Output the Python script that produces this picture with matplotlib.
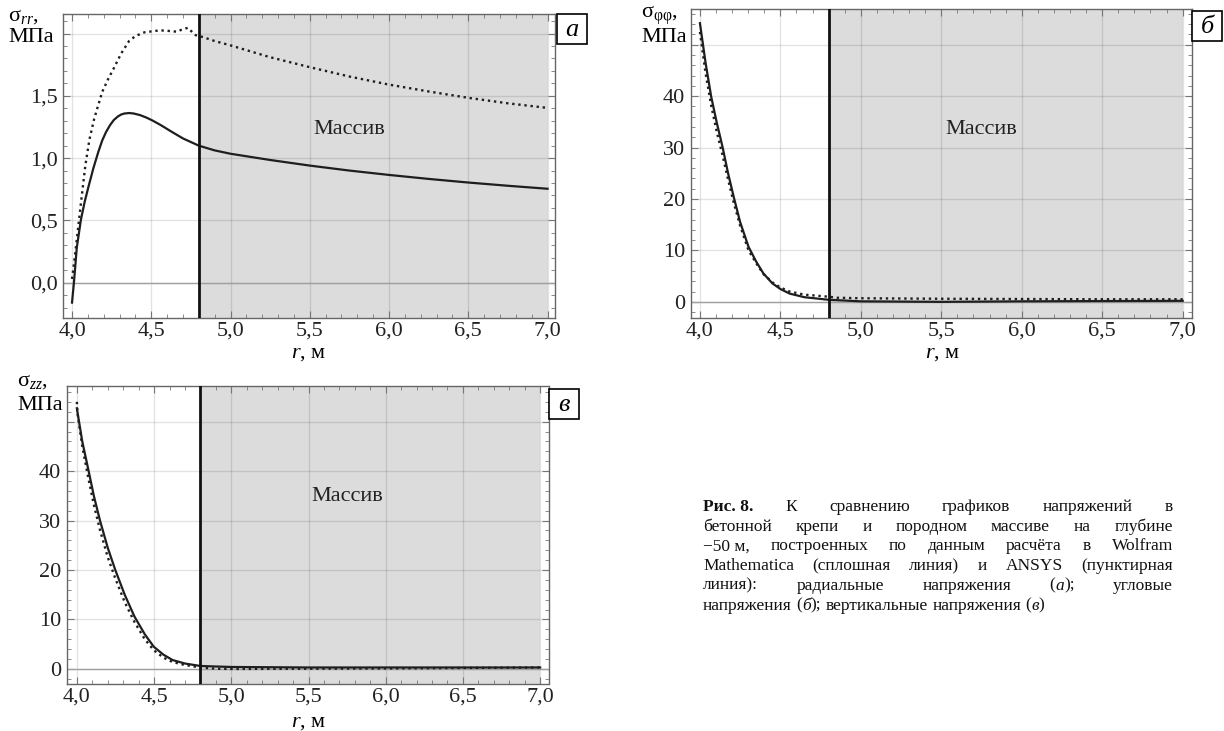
import matplotlib
matplotlib.use("Agg")
import matplotlib.pyplot as plt
from matplotlib.ticker import FixedLocator, MultipleLocator, FixedFormatter
from matplotlib.patches import Rectangle

plt.rcParams['font.family'] = ['Liberation Serif', 'DejaVu Serif']
plt.rcParams['mathtext.fontset'] = 'custom'
plt.rcParams['mathtext.rm'] = 'Liberation Serif'
plt.rcParams['mathtext.it'] = 'Liberation Serif:italic'

# ---- data ----
# panel a: radial stress
a_r_solid = [4.0, 4.012, 4.03, 4.056, 4.08, 4.105, 4.135, 4.165, 4.19, 4.214, 4.24, 4.263,
             4.29, 4.31, 4.33, 4.36, 4.39, 4.43, 4.47, 4.506, 4.56, 4.628, 4.7, 4.8, 4.9,
             5.0, 5.25, 5.5, 5.75, 6.0, 6.25, 6.5, 6.75, 7.0]
a_s_solid = [-0.16, 0.0, 0.28, 0.505, 0.65, 0.776, 0.92, 1.046, 1.14, 1.208, 1.265, 1.305,
             1.335, 1.35, 1.358, 1.362, 1.358, 1.345, 1.325, 1.303, 1.265, 1.212, 1.158, 1.10,
             1.062, 1.035, 0.985, 0.94, 0.90, 0.865, 0.833, 0.804, 0.778, 0.754]
a_r_dot = [4.0, 4.015, 4.035, 4.06, 4.084, 4.11, 4.14, 4.19, 4.23, 4.263, 4.31, 4.36, 4.4,
           4.457, 4.555, 4.62, 4.66, 4.69, 4.73, 4.76, 4.78, 4.83, 4.9, 5.0, 5.25, 5.5,
           5.75, 6.0, 6.25, 6.5, 6.75, 7.0]
a_s_dot = [0.03, 0.18, 0.40, 0.68, 0.94, 1.15, 1.316, 1.53, 1.64, 1.72, 1.84, 1.94, 1.98,
           2.01, 2.026, 2.02, 2.015, 2.03, 2.046, 2.01, 1.987, 1.97, 1.94, 1.905, 1.81, 1.73,
           1.655, 1.59, 1.535, 1.484, 1.44, 1.403]

# panel b: hoop stress
b_r_solid = [4.0, 4.035, 4.07, 4.105, 4.14, 4.175, 4.21, 4.25, 4.302, 4.35, 4.395, 4.45,
             4.5, 4.558, 4.65, 4.8, 5.0, 5.5, 6.0, 6.5, 7.0]
b_s_solid = [54.2, 46.5, 39.9, 34.8, 30.2, 25.0, 20.4, 15.5, 10.7, 7.8, 5.5, 3.6,
             2.5, 1.6, 0.9, 0.4, 0.1, 0.0, 0.1, 0.15, 0.2]
b_r_dot = [4.0, 4.035, 4.07, 4.105, 4.14, 4.175, 4.21, 4.25, 4.302, 4.35, 4.395, 4.45,
           4.5, 4.558, 4.65, 4.8, 4.85, 5.0, 5.5, 6.0, 6.5, 7.0]
b_s_dot = [52.5, 44.5, 38.2, 33.0, 28.6, 23.8, 19.3, 14.8, 10.0, 7.5, 5.4, 3.8,
           2.8, 2.0, 1.4, 1.0, 0.8, 0.7, 0.6, 0.55, 0.5, 0.5]

# panel c: vertical stress
c_r_solid = [4.0, 4.035, 4.075, 4.11, 4.149, 4.2, 4.249, 4.31, 4.373, 4.44, 4.498, 4.56,
             4.62, 4.7, 4.8, 5.0, 5.5, 6.0, 6.5, 7.0]
c_s_solid = [52.7, 46.0, 40.2, 35.0, 30.1, 24.5, 20.0, 15.0, 10.6, 7.0, 4.5, 2.9,
             1.8, 1.1, 0.6, 0.4, 0.3, 0.3, 0.3, 0.3]
c_r_dot = [4.0, 4.005, 4.035, 4.075, 4.11, 4.149, 4.2, 4.249, 4.31, 4.373, 4.44, 4.498,
           4.56, 4.62, 4.7, 4.8, 4.9, 5.0, 5.5, 6.0, 6.5, 7.0]
c_s_dot = [54.0, 51.5, 45.0, 38.5, 33.2, 28.2, 22.6, 18.3, 13.5, 9.5, 6.0, 3.8,
           2.3, 1.4, 0.8, 0.3, 0.05, 0.0, 0.05, 0.1, 0.2, 0.3]

r_ticks = [4.0, 4.5, 5.0, 5.5, 6.0, 6.5, 7.0]
r_labels = ["4,0", "4,5", "5,0", "5,5", "6,0", "6,5", "7,0"]
a_ticks = [0.0, 0.5, 1.0, 1.5, 2.0]
a_labels = ["0,0", "0,5", "1,0", "1,5", ""]
bc_ticks = [0, 10, 20, 30, 40, 50]
bc_labels = ["0", "10", "20", "30", "40", ""]

r_contact = 4.8
r_end = 7.0

caption_lines = [
    "**Рис.\u00a08.** К сравнению графиков напряжений в",
    "бетонной крепи и породном массиве на глубине",
    "\u221250\u00a0м, построенных по данным расчёта в Wolfram",
    "Mathematica (сплошная линия) и ANSYS (пунктирная",
    "линия): радиальные напряжения (_а_); угловые",
    "напряжения (_б_); вертикальные напряжения (_в_)",
]

W, H = 1224, 731
fig = plt.figure(figsize=(W / 100, H / 100), dpi=100)
FS = 16


def fx(px):
    return px / W


def fy(py):
    return 1 - py / H


def add_panel(left, top, right, bottom):
    return fig.add_axes([fx(left), fy(bottom), (right - left) / W, (bottom - top) / H])


def draw_panel(ax, rs, ss, rd, sd, xlim, ylim, yticks, ylabels, yminor, massiv_y):
    ax.axvspan(r_contact, r_end, color="#dcdcdc", lw=0, zorder=0)
    ax.set_axisbelow(True)
    ax.axhline(0, color="#a0a0a0", lw=1.0, zorder=1)
    ax.plot(rd, sd, color="#1e1e1e", lw=1.7, ls=(0, (1, 1.6)), zorder=3)
    ax.plot(rs, ss, color="#1e1e1e", lw=1.6, zorder=4)
    ax.axvline(r_contact, color="#111111", lw=2.0, zorder=5)
    ax.text(5.75, massiv_y, "Массив", fontsize=FS, ha="center", va="center", color="#222222")

    ax.set_xlim(*xlim)
    ax.set_ylim(*ylim)
    ax.xaxis.set_major_locator(FixedLocator(r_ticks))
    ax.xaxis.set_major_formatter(FixedFormatter(r_labels))
    ax.xaxis.set_minor_locator(MultipleLocator(0.1))
    ax.yaxis.set_major_locator(FixedLocator(yticks))
    ax.yaxis.set_major_formatter(FixedFormatter(ylabels))
    ax.yaxis.set_minor_locator(MultipleLocator(yminor))
    ax.grid(True, which="major", color="black", alpha=0.11, lw=1.0)
    ax.tick_params(which="both", direction="in", top=True, right=True, colors="#777777",
                   labelcolor="#222222", labelsize=FS)
    ax.tick_params(which="major", length=5, width=0.8)
    ax.tick_params(which="minor", length=3, width=0.6)
    ax.tick_params(axis="x", pad=2)
    ax.tick_params(axis="y", pad=4)
    for sp in ax.spines.values():
        sp.set_color("#666666")
        sp.set_linewidth(1.0)


def letter_box(x0, y0, x1, y1, letter):
    fig.add_artist(Rectangle((fx(x0), fy(y1)), (x1 - x0) / W, (y1 - y0) / H,
                             transform=fig.transFigure, fc="white", ec="black", lw=1.2))
    fig.text(fx((x0 + x1) / 2), fy((y0 + y1) / 2 + 1), letter, fontsize=19, style="italic",
             ha="center", va="center")


# panel a
ax_a = add_panel(63.3, 14, 555, 318.3)
draw_panel(ax_a, a_r_solid, a_s_solid, a_r_dot, a_s_dot, (3.945, 7.047), (-0.286, 2.157),
           a_ticks, a_labels, 0.1, 1.23)
fig.text(fx(8), fy(21), r"σ$_{rr}$,", fontsize=FS, ha="left", va="baseline")
fig.text(fx(8), fy(42), "МПа", fontsize=FS, ha="left", va="baseline")
fig.text(fx(309), fy(358), r"$r$, м", fontsize=FS, ha="center", va="baseline")
letter_box(557, 14, 587, 44, "а")

# panel b
ax_b = add_panel(690.6, 9.3, 1192, 318.3)
draw_panel(ax_b, b_r_solid, b_s_solid, b_r_dot, b_s_dot, (3.942, 7.058), (-3.2, 56.9),
           bc_ticks, bc_labels, 2, 33.6)
fig.text(fx(641), fy(18), r"σ$_{\mathrm{φφ}}$,", fontsize=FS, ha="left", va="baseline")
fig.text(fx(641), fy(42), "МПа", fontsize=FS, ha="left", va="baseline")
fig.text(fx(943), fy(358), r"$r$, м", fontsize=FS, ha="center", va="baseline")
letter_box(1192, 11, 1222, 41, "б")

# panel c
ax_c = add_panel(66.5, 386, 548.5, 684.3)
draw_panel(ax_c, c_r_solid, c_s_solid, c_r_dot, c_s_dot, (3.933, 7.054), (-3.1, 57.2),
           bc_ticks, bc_labels, 2, 34.8)
fig.text(fx(17), fy(386), r"σ$_{zz}$,", fontsize=FS, ha="left", va="baseline")
fig.text(fx(17), fy(410), "МПа", fontsize=FS, ha="left", va="baseline")
fig.text(fx(309), fy(727), r"$r$, м", fontsize=FS, ha="center", va="baseline")
letter_box(549, 389, 579, 419, "в")


# ---- justified caption ----
def parse_word(word):
    segs = []
    bold = False
    ital = False
    buf = ""
    i = 0
    while i < len(word):
        if word.startswith("**", i):
            if buf:
                segs.append((buf, bold, ital))
            buf = ""
            bold = not bold
            i += 2
        elif word[i] == "_":
            if buf:
                segs.append((buf, bold, ital))
            buf = ""
            ital = not ital
            i += 1
        else:
            buf += word[i]
            i += 1
    if buf:
        segs.append((buf, bold, ital))
    return segs


renderer = fig.canvas.get_renderer()
cap_left, cap_right = 703, 1173
cap_top = 511
cap_step = 19.7
cap_size = 12.5

for li, line in enumerate(caption_lines):
    words = [parse_word(w) for w in line.split(" ")]
    base_y = cap_top + li * cap_step
    # measure every segment first
    placed = []
    widths = []
    for segs in words:
        items = []
        wsum = 0
        for s, bold, ital in segs:
            t = fig.text(0, 0, s, fontsize=cap_size, weight="bold" if bold else "normal",
                         style="italic" if ital else "normal", ha="left", va="baseline",
                         color="#111111")
            w = t.get_window_extent(renderer).width
            items.append((t, w))
            wsum += w
        placed.append(items)
        widths.append(wsum)
    total = sum(widths)
    if li < len(caption_lines) - 1:
        gap = (cap_right - cap_left - total) / (len(words) - 1)
    else:
        sp = fig.text(0, 0, "a a", fontsize=cap_size)
        sp2 = fig.text(0, 0, "aa", fontsize=cap_size)
        gap = sp.get_window_extent(renderer).width - sp2.get_window_extent(renderer).width
        sp.remove()
        sp2.remove()
    x = cap_left
    for items in placed:
        for t, w in items:
            t.set_position((fx(x), fy(base_y)))
            x += w
        x += gap

fig.savefig("out.png", dpi=100, facecolor="white")
